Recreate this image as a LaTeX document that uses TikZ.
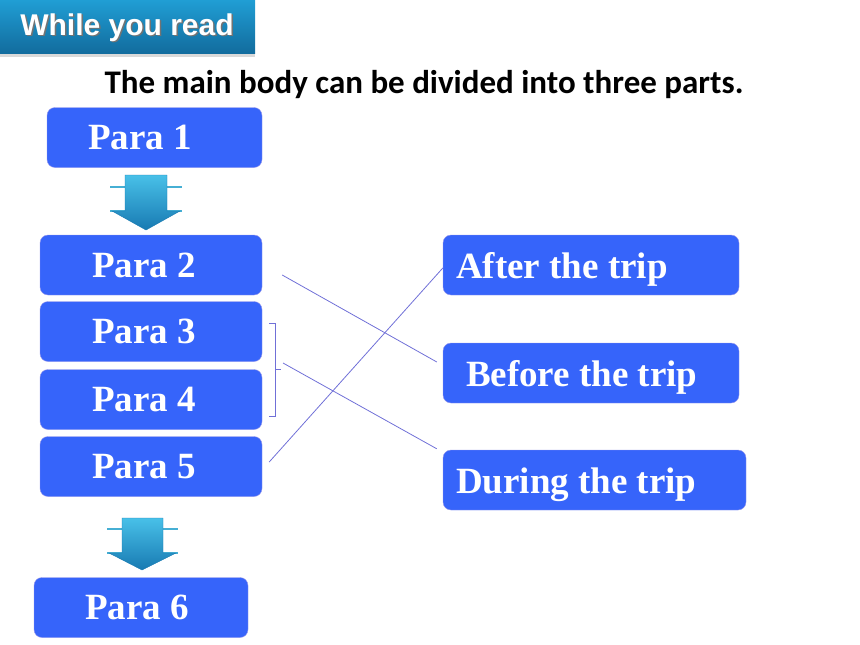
\documentclass[tikz,border=0pt]{standalone}
\usepackage{fontspec}
\setmainfont{Liberation Serif}
\newfontfamily\titlefont{Carlito}
\newfontfamily\headfont{Liberation Sans}
\usetikzlibrary{calc}
\definecolor{boxblue}{RGB}{54,100,250}
\definecolor{boxrim}{RGB}{150,150,235}
\definecolor{linkblue}{RGB}{112,112,215}
\definecolor{bannertop}{RGB}{32,158,212}
\definecolor{bannerbot}{RGB}{18,108,158}
\definecolor{arrtop}{RGB}{72,192,232}
\definecolor{arrbot}{RGB}{24,122,178}
\definecolor{barteal}{RGB}{70,175,212}
\tikzset{
	para/.style={
		draw=boxrim,
		fill=boxblue,
		rounded corners=8pt,
		minimum height=60pt,
		text=white,
		font=\bfseries\fontsize{37}{37}\selectfont,
		align=flush left,
		inner xsep=52pt,
		text width=118pt,
	},
	trip/.style={
		para,
		inner xsep=13pt,
		text width=270pt,
		text height=30pt,
		text depth=4pt,
	},
	link/.style={
		draw=linkblue,
		line width=0.8pt,
	},
	bracket/.style={
		draw=linkblue,
		line width=0.8pt,
	},
	bar/.style={
		draw=barteal,
		line width=1.6pt,
	},
	blockarrow/.style={
		top color=arrtop,
		bottom color=arrbot,
		draw=arrbot,
		line width=0.4pt,
	},
}
\begin{document}
\begin{tikzpicture}[x=1pt,y=-1pt]
		\useasboundingbox (0,0) rectangle (860,645);

		% banner
		\fill[black!15] (0,52) rectangle (255,57);
		\fill[top color=bannertop, bottom color=bannerbot] (0,0) rectangle (255,53);
		\node[anchor=base, text=black!55, font=\headfont\bfseries\fontsize{30}{30}\selectfont] (headshadow) at (128.5,36.5) {While you read};
		\node[anchor=base, text=white, font=\headfont\bfseries\fontsize{30}{30}\selectfont] (head) at (127,35) {While you read};

		\node[anchor=base, font=\titlefont\bfseries\fontsize{33}{33}\selectfont] (title) at (424,93) {The main body can be divided into three parts.};

%*********

		\node[para, inner xsep=41pt, text width=133pt] (p1) at (154.5,137.5) {Para 1};

		\draw[bar] (110,187) -- (182,187);
		\draw[bar] (110,211) -- (182,211);
		\path[blockarrow] (125,175) -- (167,175) -- (167,211) -- (180,211) -- (146,230) -- (112,211) -- (125,211) -- cycle;

		\node[para] (p2) at (151,265) {Para 2};
		\node[para] (p3) at (151,331.5) {Para 3};
		\node[para] (p4) at (151,399.5) {Para 4};
		\node[para] (p5) at (151,466.5) {Para 5};

		\draw[bar] (107,529) -- (178,529);
		\draw[bar] (107,553) -- (178,553);
		\path[blockarrow] (122,518) -- (163,518) -- (163,553) -- (176,553) -- (142,570) -- (109,553) -- (122,553) -- cycle;

		\node[para, inner xsep=51pt, text width=112pt] (p6) at (141,607.5) {Para 6};

%*********

		\node[trip] (after) at (591,265) {After the trip};
		\node[trip, inner xsep=23pt, text width=250pt] (before) at (591,373) {Before the trip};
		\node[trip, text width=277pt] (during) at (594.5,480) {During the trip};

		\draw[bracket] (269,323) -- (275,323) -- (275,416) -- (269,416);
		\draw[bracket] (275,369) -- (281,369);
		\coordinate (brc) at (283,363);

		\draw[link] ($(p2.east)+(20,10)$) -- ($(before.west)+(-6,-11)$);
		\draw[link] ($(p5.east)+(7,-4.5)$) -- ($(after.west)+(0,3)$);
		\draw[link] (brc) -- ($(during.north west)+(-6,-1)$);

	\end{tikzpicture}
\end{document}
